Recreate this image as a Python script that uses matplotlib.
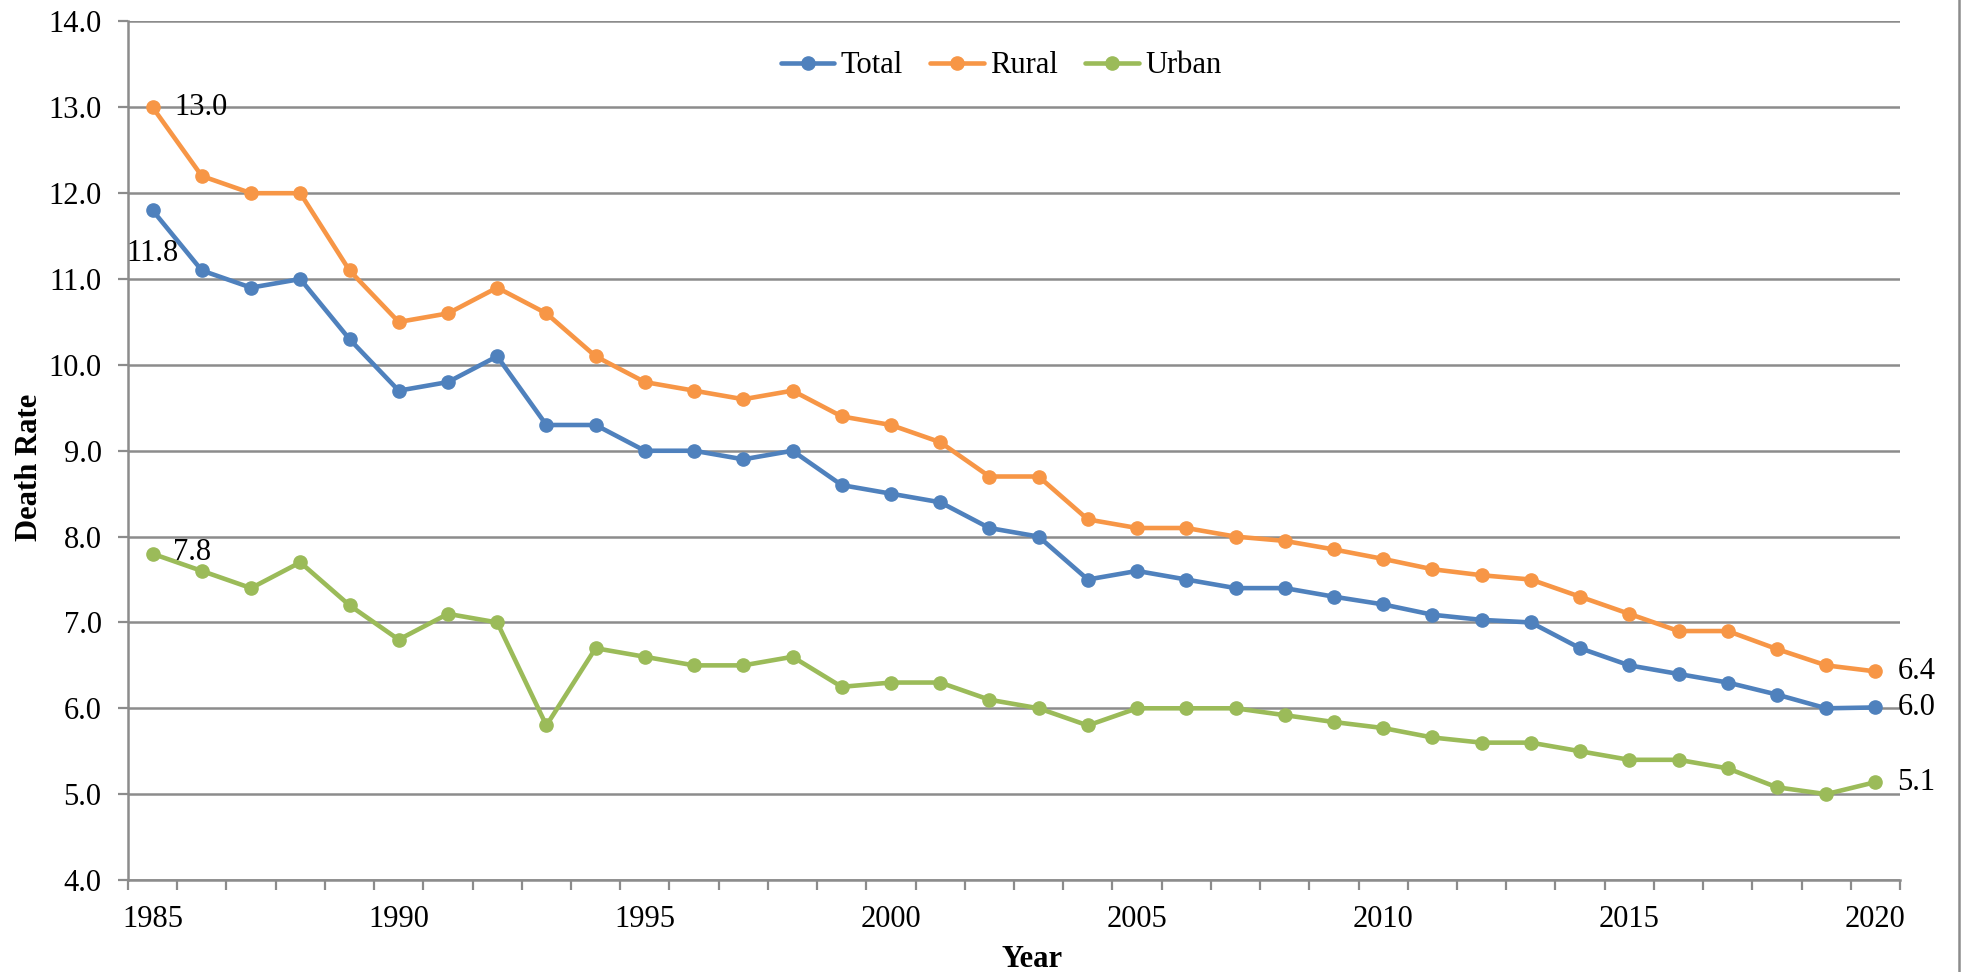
import matplotlib
matplotlib.use("Agg")
import matplotlib.pyplot as plt
from matplotlib.lines import Line2D
import numpy as np

plt.rcParams['font.family'] = ['Liberation Serif', 'DejaVu Serif']

years = list(range(1985, 2021))
total = [11.8, 11.1, 10.9, 11.0, 10.3, 9.7, 9.8, 10.1, 9.3, 9.3,
         9.0, 9.0, 8.9, 9.0, 8.6, 8.5, 8.4, 8.1, 8.0, 7.5,
         7.6, 7.5, 7.4, 7.4, 7.3, 7.21, 7.09, 7.03, 7.0, 6.7,
         6.5, 6.4, 6.3, 6.16, 6.0, 6.01]
rural = [13.0, 12.2, 12.0, 12.0, 11.1, 10.5, 10.6, 10.9, 10.6, 10.1,
         9.8, 9.7, 9.6, 9.7, 9.4, 9.3, 9.1, 8.7, 8.7, 8.2,
         8.1, 8.1, 8.0, 7.95, 7.85, 7.74, 7.62, 7.55, 7.5, 7.3,
         7.1, 6.9, 6.9, 6.69, 6.5, 6.43]
urban = [7.8, 7.6, 7.4, 7.7, 7.2, 6.8, 7.1, 7.0, 5.8, 6.7,
         6.6, 6.5, 6.5, 6.6, 6.25, 6.3, 6.3, 6.1, 6.0, 5.8,
         6.0, 6.0, 6.0, 5.92, 5.84, 5.77, 5.66, 5.6, 5.6, 5.5,
         5.4, 5.4, 5.3, 5.08, 5.0, 5.14]
series_names = ["Total", "Rural", "Urban"]
colors = ["#4F81BD", "#F79646", "#9BBB59"]
x_labels = [1985, 1990, 1995, 2000, 2005, 2010, 2015, 2020]
y_ticks = [4.0, 5.0, 6.0, 7.0, 8.0, 9.0, 10.0, 11.0, 12.0, 13.0, 14.0]

W, H = 1965, 972
fig = plt.figure(figsize=(W / 100, H / 100), dpi=100)
ax = fig.add_axes([128 / W, 1 - 880 / H, (1900 - 128) / W, (880 - 21.5) / H])

grid_color = "#8C8C8C"
fs = 22

for name, vals, c in zip(series_names, [total, rural, urban], colors):
    ax.plot(years, vals, color=c, lw=3.3, marker='o', markersize=9.5,
            label=name, zorder=3, solid_capstyle='round')

ax.set_xlim(1984.5, 2020.5)
ax.set_ylim(4.0, 14.0)
ax.set_yticks(y_ticks)
ax.set_yticklabels([f"{v:.1f}" for v in y_ticks], fontsize=fs)
ax.set_xticks(x_labels)
ax.set_xticklabels([str(v) for v in x_labels], fontsize=fs)
ax.set_xticks(np.arange(1984.5, 2021.0, 1.0), minor=True)
ax.tick_params(axis='x', which='major', length=0, pad=18)
ax.tick_params(axis='x', which='minor', length=7, width=1.6, color=grid_color, direction='out')
ax.tick_params(axis='y', which='major', length=7, width=1.6, color=grid_color, direction='out', pad=12)

ax.yaxis.grid(True, color=grid_color, lw=1.8, zorder=0)
ax.set_axisbelow(True)
for s in ['top', 'right']:
    ax.spines[s].set_visible(False)
for s in ['left', 'bottom']:
    ax.spines[s].set_color(grid_color)
    ax.spines[s].set_linewidth(1.8)

# axis titles
fig.text(29.5 / W, 1 - 467 / H, "Death Rate", rotation=90, ha='center', va='center',
         fontsize=fs, fontweight='bold')
fig.text(1032 / W, 1 - 967 / H, "Year", ha='center', va='baseline',
         fontsize=fs, fontweight='bold')

leg = ax.legend(loc='center', bbox_to_anchor=(0.4927, 0.9485), ncol=3, frameon=False,
                fontsize=fs, handlelength=1.75, handletextpad=0.2, columnspacing=0.9)

# data labels
ax.annotate(f"{rural[0]:.1f}", (years[0], rural[0]), xytext=(16, 0), textcoords='offset points',
            ha='left', va='center', fontsize=fs)
ax.annotate(f"{total[0]:.1f}", (years[0], total[0]), xytext=(0, -31), textcoords='offset points',
            ha='center', va='center', fontsize=fs)
ax.annotate(f"{urban[0]:.1f}", (years[0], urban[0]), xytext=(15, 1), textcoords='offset points',
            ha='left', va='center', fontsize=fs)
for vals in [rural, total, urban]:
    ax.annotate(f"{vals[-1]:.1f}", (years[-1], vals[-1]), xytext=(16, 0), textcoords='offset points',
                ha='left', va='center', fontsize=fs)

# chart border on the right
fig.add_artist(Line2D([1959.5 / W, 1959.5 / W], [0, 1], transform=fig.transFigure,
                      color="#8C8C8C", lw=1.8))

fig.savefig("out.png", dpi=100, facecolor='white')
